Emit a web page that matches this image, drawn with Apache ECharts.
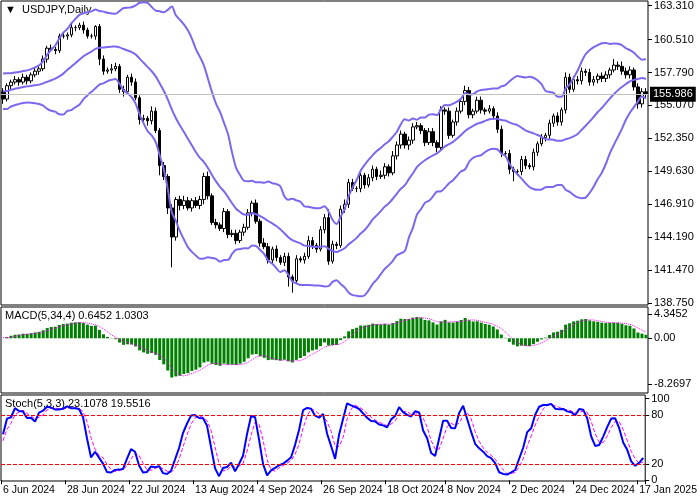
<!DOCTYPE html>
<html>
<head>
<meta charset="utf-8">
<script src="https://cdn.jsdelivr.net/npm/echarts@6/dist/echarts.min.js"></script>
<style>html,body{margin:0;padding:0;background:#fff}#chart{width:700px;height:500px}</style>
</head>
<body>
<div id="chart"></div>
<script>
// warm-up closes before 6 Jun (not drawn, only feed the indicators)
const preCloses = [154.8,154.6,155.3,155.6,156.3,157.8,157.5,153.0,153.0,153.9,154.7,155.5,155.8,155.7,156.2,156.4,154.9,155.4,155.7,155.7,156.2,156.8,156.9,157.0,156.9,157.1,157.2,156.8,157.3,156.1,154.8,156.1,155.7,156.2];

const closes = [
  155.6,156.7,157.0,157.2,157.0,157.4,157.1,157.6,157.9,158.1,
  158.9,159.8,159.7,159.6,160.8,160.8,160.9,161.5,161.5,161.7,
  161.3,160.8,160.8,161.6,158.9,157.9,158.0,158.1,158.3,156.4,
  156.2,157.4,157.0,155.7,153.9,154.0,153.8,154.6,153.0,150.1,
  149.2,146.6,144.2,147.3,146.8,147.2,146.6,147.2,146.8,147.3,
  149.2,147.6,145.4,145.2,144.9,146.3,144.4,144.5,143.9,144.6,
  145.0,146.2,147.0,145.5,143.7,143.4,142.3,143.2,142.5,142.1,
  142.6,140.9,140.6,142.4,142.3,142.6,143.9,143.5,143.2,144.8,
  145.8,142.2,143.6,143.5,146.5,146.9,148.7,148.2,148.2,149.3,
  148.5,149.1,149.8,149.2,149.3,150.0,149.5,150.9,151.8,152.7,
  151.8,152.2,153.3,153.4,153.0,152.0,152.9,152.0,151.6,154.7,
  154.6,152.6,153.7,154.6,155.4,156.3,154.3,154.6,155.5,154.7,
  154.6,154.8,154.2,153.1,151.1,151.1,149.8,149.6,149.6,150.6,
  150.1,150.0,151.2,151.9,152.4,152.6,153.6,154.2,153.7,154.7,
  157.4,156.4,157.2,157.1,157.9,157.8,157.0,157.2,157.5,157.3,
  157.6,158.0,158.4,158.3,157.9,157.6,158.0,156.6,155.2,156.2,
  155.986
];
// wick lengths in tenths of a yen above / below the body
const hiAdd = [
  3,2,2,3,2,3,2,2,3,2, 3,2,3,2,2,3,2,3,2,2, 3,2,2,1,2,3,2,4,3,2,
  3,2,3,3,2,3,2,4,3,2, 3,2,3,2,3,4,3,2,3,3, 3,4,2,3,2,3,2,3,3,2,
  3,3,2,3,2,4,3,2,3,2, 3,3,2,3,2,3,4,3,2,3, 3,7,3,2,3,4,3,3,2,3,
  2,3,3,2,4,3,2,4,3,3, 2,3,3,3,2,2,3,3,2,3, 2,3,2,3,2,4,3,2,3,3,
  2,3,2,3,3,2,3,2,2,3, 3,2,3,2,3,2,3,2,3,2, 4,3,3,3,3,2,3,3,2,3,
  3,2,5,3,4,3,3,2,3,3, 3
];
const loAdd = [
  4,2,3,2,3,2,3,2,2,3, 2,3,2,3,2,2,3,2,3,2, 3,2,2,3,5,3,2,3,2,3,
  4,2,3,2,4,3,4,3,2,8, 3,5,25,3,4,3,2,3,2,3, 4,3,2,3,2,3,3,2,3,2,
  3,2,3,2,3,2,3,4,3,2, 3,8,10,3,2,3,2,3,3,2, 3,3,2,3,2,3,3,2,3,3,
  3,2,3,3,2,3,3,2,3,3, 3,4,3,2,3,3,2,3,4,3, 3,3,2,3,2,3,3,3,2,3,
  3,2,3,3,3,3,4,8,3,3, 3,2,3,3,2,3,3,3,3,3, 3,3,2,3,3,3,3,3,3,3,
  3,3,2,3,3,3,3,3,4,3, 3
];
const axisDates = ['6 Jun 2024','28 Jun 2024','22 Jul 2024','13 Aug 2024','4 Sep 2024','26 Sep 2024','18 Oct 2024','8 Nov 2024','2 Dec 2024','24 Dec 2024','17 Jan 2025'];
const priceTicks = [163.31,160.51,157.79,155.07,152.35,149.63,146.91,144.19,141.47,138.75];
const macdTicks = [4.3452,0,-8.2697];
const stochTicks = [100,80,20,0];
const lastPrice = 155.986;
// indicator readouts as printed on the chart
const macdReadout = [0.6452, 1.0303];
const stochReadout = [23.1078, 19.5516];

// trading days (weekdays, no 25 Dec / 1 Jan)
const MON = ['Jan','Feb','Mar','Apr','May','Jun','Jul','Aug','Sep','Oct','Nov','Dec'];
const dates = [];
let d = new Date(Date.UTC(2024,5,6));
while (dates.length < closes.length) {
  const wd = d.getUTCDay(), m = d.getUTCMonth(), dd = d.getUTCDate();
  if (wd !== 0 && wd !== 6 && !(m === 11 && dd === 25) && !(m === 0 && dd === 1))
    dates.push(dd + ' ' + MON[m] + ' ' + d.getUTCFullYear());
  d = new Date(d.getTime() + 86400000);
}

const all = preCloses.concat(closes);
const P = preCloses.length;
const opens = closes.map((c, i) => i === 0 ? preCloses[P - 1] : closes[i - 1]);
const highs = closes.map((c, i) => +(Math.max(c, opens[i]) + hiAdd[i] / 10).toFixed(3));
const lows = closes.map((c, i) => +(Math.min(c, opens[i]) - loAdd[i] / 10).toFixed(3));
const candles = closes.map((c, i) => [opens[i], c, lows[i], highs[i]]);

// Bollinger 20,2
const up = [], mid = [], dn = [];
closes.forEach((c, i) => {
  const w = all.slice(P + i - 19, P + i + 1);
  const m = w.reduce((a, b) => a + b, 0) / w.length;
  const sd = Math.sqrt(w.reduce((a, b) => a + (b - m) * (b - m), 0) / w.length);
  mid.push(+m.toFixed(3)); up.push(+(m + 2 * sd).toFixed(3)); dn.push(+(m - 2 * sd).toFixed(3));
});

// MACD 5,34,4
function ema(arr, n) { const k = 2 / (n + 1); const o = []; arr.forEach((v, i) => o.push(i ? v * k + o[i - 1] * (1 - k) : v)); return o; }
const e5 = ema(all, 5), e34 = ema(all, 34);
const macdAll = all.map((v, i) => e5[i] - e34[i]);
const macd = closes.map((c, i) => +macdAll[P + i].toFixed(4));
const signal = closes.map((c, i) => +(macdAll.slice(P + i - 3, P + i + 1).reduce((a, b) => a + b, 0) / 4).toFixed(4));

// Stochastic 5,3,3
const H = preCloses.map(v => v + 0.3).concat(highs), L = preCloses.map(v => v - 0.3).concat(lows);
const num = [], den = [];
all.forEach((c, i) => {
  const s = Math.max(0, i - 4);
  const hh = Math.max(...H.slice(s, i + 1)), ll = Math.min(...L.slice(s, i + 1));
  num.push(c - ll); den.push(hh - ll);
});
const kAll = all.map((c, i) => { const s = Math.max(0, i - 2); const a = num.slice(s, i + 1).reduce((x, y) => x + y, 0), b = den.slice(s, i + 1).reduce((x, y) => x + y, 0); return b ? 100 * a / b : 50; });
const stochK = closes.map((c, i) => +kAll[P + i].toFixed(2));
const stochD = closes.map((c, i) => +(kAll.slice(P + i - 2, P + i + 1).reduce((a, b) => a + b, 0) / 3).toFixed(2));

const font = 'Liberation Sans';
const chart = echarts.init(document.getElementById('chart'), null, {renderer: 'canvas'});
const xBase = {type: 'category', data: dates, boundaryGap: true, axisLine: {show: false}, axisTick: {show: false}, axisLabel: {show: false}};
const yBase = {type: 'value', position: 'right', scale: true, splitLine: {show: false}, axisLine: {show: false},
  axisTick: {show: true, length: 4, lineStyle: {color: '#000'}},
  axisLabel: {color: '#000', fontFamily: font, fontSize: 11, margin: 6}};

chart.setOption({
  animation: false,
  grid: [
    {left: 1, right: 52, top: 1, height: 304, show: true, borderColor: '#000', borderWidth: 1},
    {left: 1, right: 52, top: 307, height: 86, show: true, borderColor: '#000', borderWidth: 1},
    {left: 1, right: 52, top: 395, height: 86, show: true, borderColor: '#000', borderWidth: 1}
  ],
  xAxis: [
    Object.assign({gridIndex: 0}, xBase),
    Object.assign({gridIndex: 1}, xBase),
    Object.assign({gridIndex: 2}, xBase, {
      axisTick: {show: true, length: 4, lineStyle: {color: '#000'}, interval: (i, v) => axisDates.includes(v)},
      axisLabel: {show: true, interval: (i, v) => axisDates.includes(v), color: '#000', fontFamily: font, fontSize: 10.5, align: 'left', margin: 4}
    })
  ],
  yAxis: [
    Object.assign({}, yBase, {gridIndex: 0, min: 138.58, max: 163.70,
      axisLabel: Object.assign({}, yBase.axisLabel, {customValues: priceTicks, formatter: v => v.toFixed(3)}),
      axisTick: Object.assign({}, yBase.axisTick, {customValues: priceTicks})}),
    Object.assign({}, yBase, {gridIndex: 1, min: -9.8, max: 5.6,
      axisLabel: Object.assign({}, yBase.axisLabel, {customValues: macdTicks, formatter: v => v === 0 ? '0.00' : String(v)}),
      axisTick: Object.assign({}, yBase.axisTick, {customValues: macdTicks})}),
    Object.assign({}, yBase, {gridIndex: 2, min: -0.9, max: 104.4,
      axisLabel: Object.assign({}, yBase.axisLabel, {customValues: stochTicks}),
      axisTick: Object.assign({}, yBase.axisTick, {customValues: stochTicks})})
  ],
  series: [
    {type: 'candlestick', xAxisIndex: 0, yAxisIndex: 0, data: candles, barWidth: 3,
      itemStyle: {color: '#fff', color0: '#000', borderColor: '#000', borderColor0: '#000', borderWidth: 1},
      markLine: {symbol: 'none', silent: true, data: [{yAxis: lastPrice}],
        lineStyle: {color: '#c0c0c0', type: 'solid', width: 1},
        label: {position: 'end', formatter: lastPrice.toFixed(3), color: '#fff', backgroundColor: '#000',
          fontFamily: font, fontSize: 11, padding: [2, 3], distance: 2}}},
    {type: 'line', xAxisIndex: 0, yAxisIndex: 0, data: up, showSymbol: false, smooth: 0.3, lineStyle: {color: '#7b68ee', width: 2}},
    {type: 'line', xAxisIndex: 0, yAxisIndex: 0, data: mid, showSymbol: false, smooth: 0.3, lineStyle: {color: '#7b68ee', width: 2}},
    {type: 'line', xAxisIndex: 0, yAxisIndex: 0, data: dn, showSymbol: false, smooth: 0.3, lineStyle: {color: '#7b68ee', width: 2}},
    {type: 'bar', xAxisIndex: 1, yAxisIndex: 1, data: macd, barWidth: 3, itemStyle: {color: '#008000'}},
    {type: 'line', xAxisIndex: 1, yAxisIndex: 1, data: signal, showSymbol: false, lineStyle: {color: '#ff00ff', width: 1, type: 'dotted'}},
    {type: 'line', xAxisIndex: 2, yAxisIndex: 2, data: stochD, showSymbol: false, lineStyle: {color: '#ff00ff', width: 1, type: 'dashed'},
      markLine: {symbol: 'none', silent: true, label: {show: false}, data: [{yAxis: 80}, {yAxis: 20}],
        lineStyle: {color: '#ff0000', type: 'dashed', width: 1}}},
    {type: 'line', xAxisIndex: 2, yAxisIndex: 2, data: stochK, showSymbol: false, lineStyle: {color: '#0000ff', width: 2}}
  ],
  graphic: [
    {type: 'text', left: 5, top: 4, style: {text: '\u25BC  USDJPY,Daily', font: '11px "Liberation Sans"', fill: '#000'}},
    {type: 'text', left: 5, top: 310, style: {text: 'MACD(5,34,4) ' + macdReadout.map(v => v.toFixed(4)).join(' '), font: '11px "Liberation Sans"', fill: '#000'}},
    {type: 'text', left: 5, top: 398, style: {text: 'Stoch(5,3,3) ' + stochReadout.map(v => v.toFixed(4)).join(' '), font: '11px "Liberation Sans"', fill: '#000'}}
  ]
});
</script>
</body>
</html>
